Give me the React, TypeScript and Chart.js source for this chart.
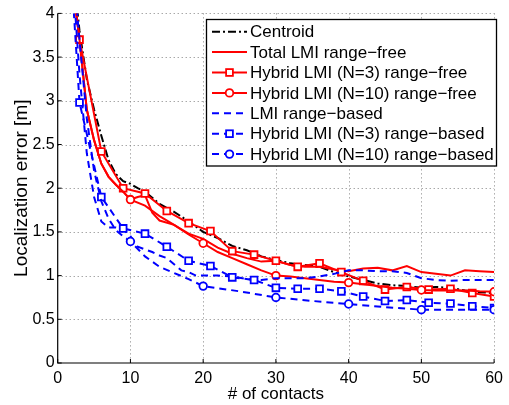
import React, { useEffect, useRef } from "react";
import { Chart, registerables } from "chart.js";

Chart.register(...registerables);

const FONT = "'Liberation Sans', Arial, Helvetica, sans-serif";

const xTicks = [0, 10, 20, 30, 40, 50, 60];
const yTicks = [0, 0.5, 1, 1.5, 2, 2.5, 3, 3.5, 4];
const xTitle = "# of contacts";
const yTitle = "Localization error [m]";

const legendLabels = [
  "Centroid",
  "Total LMI range\u2212free",
  "Hybrid LMI (N=3) range\u2212free",
  "Hybrid LMI (N=10) range\u2212free",
  "LMI range\u2212based",
  "Hybrid LMI (N=3) range\u2212based",
  "Hybrid LMI (N=10) range\u2212based",
];

const centroidX = [2, 3, 4, 5, 6, 7, 8, 9, 10, 11, 12, 14, 16, 18, 20, 22, 24, 26, 28, 30, 32, 34, 36, 38, 40, 42, 44, 46, 48, 50, 52, 54, 56, 58, 60];
const centroidY = [4.6, 3.8, 3.25, 2.9, 2.6, 2.32, 2.16, 2.08, 2.05, 2.0, 1.96, 1.82, 1.73, 1.62, 1.5, 1.43, 1.34, 1.29, 1.22, 1.18, 1.14, 1.12, 1.1, 1.04, 0.99, 0.95, 0.91, 0.89, 0.88, 0.86, 0.87, 0.86, 0.83, 0.81, 0.8];

const totalRfX = [2, 3, 4, 5, 6, 7, 8, 9, 10, 11, 12, 13, 14, 16, 18, 20, 22, 24, 26, 28, 30, 32, 34, 36, 38, 40, 42, 44, 46, 48, 50, 52, 54, 56, 58, 60];
const totalRfY = [4.37, 3.7, 2.9, 2.55, 2.28, 2.13, 2.04, 1.96, 1.87, 1.9, 1.92, 1.72, 1.63, 1.58, 1.48, 1.42, 1.32, 1.25, 1.2, 1.16, 1.17, 1.12, 1.1, 1.1, 1.07, 1.05, 1.08, 1.09, 1.06, 1.11, 1.04, 1.02, 1.0, 1.06, 1.05, 1.04];

const hyb3RfX = [2, 3, 6, 9, 12, 15, 18, 21, 24, 27, 30, 33, 36, 39, 42, 45, 48, 51, 54, 57, 60];
const hyb3RfY = [4.37, 3.7, 2.42, 2.0, 1.94, 1.74, 1.6, 1.51, 1.28, 1.24, 1.17, 1.1, 1.14, 1.04, 0.94, 0.84, 0.87, 0.84, 0.85, 0.8, 0.76];

const hyb10RfX = [2, 3, 4, 5, 6, 7, 8, 9, 10, 12, 14, 16, 18, 20, 22, 24, 26, 28, 30, 32, 34, 36, 38, 40, 42, 44, 46, 48, 50, 52, 54, 56, 58, 60];
const hyb10RfY = [4.37, 3.7, 2.9, 2.55, 2.28, 2.13, 2.04, 1.96, 1.87, 1.8, 1.68, 1.58, 1.47, 1.37, 1.27, 1.2, 1.13, 1.06, 1.0, 0.99, 0.97, 0.95, 0.93, 0.92, 0.9, 0.88, 0.86, 0.85, 0.835, 0.83, 0.83, 0.83, 0.82, 0.815];

const lmiRbX = [2, 3, 4, 5, 6, 7, 8, 9, 10, 11, 12, 13, 14, 15, 16, 17, 18, 19, 20, 22, 24, 26, 28, 30, 32, 34, 36, 38, 40, 42, 44, 46, 48, 50, 52, 54, 56, 58, 60];
const lmiRbY = [4.5, 3.3, 2.4, 1.9, 1.62, 1.55, 1.55, 1.53, 1.45, 1.33, 1.3, 1.27, 1.23, 1.2, 1.13, 1.06, 1.04, 1.0, 1.0, 1.0, 0.99, 0.96, 0.95, 0.97, 0.97, 0.97, 0.99, 1.02, 1.06, 1.06, 1.05, 1.05, 1.03, 0.97, 0.95, 0.94, 0.95, 0.95, 0.95];

const hyb3RbX = [2, 3, 6, 9, 12, 15, 18, 21, 24, 27, 30, 33, 36, 39, 42, 45, 48, 51, 54, 57, 60];
const hyb3RbY = [4.3, 2.98, 1.9, 1.54, 1.48, 1.33, 1.17, 1.11, 0.98, 0.95, 0.86, 0.85, 0.85, 0.82, 0.76, 0.71, 0.72, 0.69, 0.68, 0.65, 0.63];

const hyb10RbX = [2, 3, 4, 5, 6, 7, 8, 9, 10, 12, 14, 16, 18, 20, 25, 30, 35, 40, 45, 50, 55, 60];
const hyb10RbY = [4.6, 3.7, 2.8, 2.2, 1.85, 1.65, 1.52, 1.45, 1.39, 1.22, 1.1, 1.03, 0.96, 0.88, 0.82, 0.75, 0.71, 0.675, 0.64, 0.61, 0.61, 0.61];

const markers10 = [10, 20, 30, 40, 50, 60];

const RED = "#ff0000";
const BLUE = "#0000ff";
const BLACK = "#000000";

type Style = {
  color: string;
  dash: number[];
  marker: "none" | "rect" | "circle";
};

const styles: Style[] = [
  { color: BLACK, dash: [8, 3, 2, 3], marker: "none" },
  { color: RED, dash: [], marker: "none" },
  { color: RED, dash: [], marker: "rect" },
  { color: RED, dash: [], marker: "circle" },
  { color: BLUE, dash: [7, 5], marker: "none" },
  { color: BLUE, dash: [7, 5], marker: "rect" },
  { color: BLUE, dash: [7, 5], marker: "circle" },
];

const RECT_R = 4.8;
const CIRC_R = 3.8;

function pts(xs: number[], ys: number[]) {
  return xs.map((x, i) => ({ x, y: ys[i] }));
}

const frame = {
  id: "matlabFrame",
  beforeDatasetsDraw(chart: any) {
    const { ctx, chartArea, scales } = chart;
    const { left, right, top, bottom } = chartArea;
    ctx.save();
    ctx.strokeStyle = "#808080";
    ctx.lineWidth = 1;
    ctx.setLineDash([1, 3]);
    xTicks.forEach((v) => {
      if (v === 0) return;
      const px = Math.round(scales.x.getPixelForValue(v)) + 0.5;
      ctx.beginPath();
      ctx.moveTo(px, top);
      ctx.lineTo(px, bottom);
      ctx.stroke();
    });
    yTicks.forEach((v) => {
      if (v === 0) return;
      const py = Math.round(scales.y.getPixelForValue(v)) + 0.5;
      ctx.beginPath();
      ctx.moveTo(left, py);
      ctx.lineTo(right, py);
      ctx.stroke();
    });
    ctx.restore();
  },
  afterDatasetsDraw(chart: any) {
    const { ctx, chartArea, scales } = chart;
    const { left, bottom, top, right } = chartArea;
    ctx.save();
    ctx.strokeStyle = "#000";
    ctx.lineWidth = 1.2;
    ctx.setLineDash([]);
    ctx.beginPath();
    ctx.moveTo(left, top);
    ctx.lineTo(left, bottom);
    ctx.lineTo(right, bottom);
    ctx.stroke();
    ctx.lineWidth = 1;
    xTicks.forEach((v) => {
      const px = scales.x.getPixelForValue(v);
      ctx.beginPath();
      ctx.moveTo(px, bottom);
      ctx.lineTo(px, bottom - 4);
      ctx.stroke();
    });
    yTicks.forEach((v) => {
      const py = scales.y.getPixelForValue(v);
      ctx.beginPath();
      ctx.moveTo(left, py);
      ctx.lineTo(left + 4, py);
      ctx.stroke();
    });

    const bx = 206.5, by = 19.5, bw = 290, bh = 146.5;
    ctx.fillStyle = "#fff";
    ctx.fillRect(bx, by, bw, bh);
    ctx.strokeStyle = "#000";
    ctx.lineWidth = 1.3;
    ctx.strokeRect(bx, by, bw, bh);
    const rowH = 20.4;
    const y0 = 31.7;
    ctx.font = `17px ${FONT}`;
    ctx.textBaseline = "middle";
    ctx.textAlign = "left";
    styles.forEach((s, i) => {
      const y = y0 + i * rowH;
      ctx.strokeStyle = s.color;
      ctx.lineWidth = 2;
      ctx.setLineDash(s.dash);
      ctx.beginPath();
      ctx.moveTo(212, y);
      ctx.lineTo(247, y);
      ctx.stroke();
      ctx.setLineDash([]);
      ctx.lineWidth = 1.8;
      if (s.marker === "rect") {
        const h = RECT_R / Math.SQRT2;
        ctx.fillStyle = "#fff";
        ctx.fillRect(229.5 - h, y - h, 2 * h, 2 * h);
        ctx.strokeRect(229.5 - h, y - h, 2 * h, 2 * h);
      } else if (s.marker === "circle") {
        ctx.fillStyle = "#fff";
        ctx.beginPath();
        ctx.arc(229.5, y, CIRC_R, 0, Math.PI * 2);
        ctx.fill();
        ctx.stroke();
      }
      ctx.fillStyle = "#000";
      ctx.fillText(legendLabels[i], 250, y + 1);
    });
    ctx.restore();
  },
};

export default function App() {
  const ref = useRef<HTMLCanvasElement | null>(null);

  useEffect(() => {
    if (!ref.current) return;
    const series = [
      pts(centroidX, centroidY),
      pts(totalRfX, totalRfY),
      pts(hyb3RfX, hyb3RfY),
      pts(hyb10RfX, hyb10RfY),
      pts(lmiRbX, lmiRbY),
      pts(hyb3RbX, hyb3RbY),
      pts(hyb10RbX, hyb10RbY),
    ];
    const datasets = series.map((data, i) => {
      const s = styles[i];
      return {
        label: legendLabels[i],
        data,
        borderColor: s.color,
        backgroundColor: s.color,
        borderWidth: 2,
        borderDash: s.dash,
        fill: false,
        tension: 0,
        order: -i,
        pointStyle: s.marker === "none" ? "circle" : s.marker,
        pointBackgroundColor: "#fff",
        pointBorderColor: s.color,
        pointBorderWidth: 1.8,
        pointRadius: (c: any) => {
          if (s.marker === "none") return 0;
          const x = c.raw ? c.raw.x : 0;
          if (s.marker === "rect") return RECT_R;
          return markers10.includes(x) ? CIRC_R : 0;
        },
        pointHoverRadius: 0,
      };
    });

    const chart = new Chart(ref.current, {
      type: "line",
      data: { datasets: datasets as any },
      options: {
        animation: false,
        responsive: false,
        devicePixelRatio: 1,
        layout: { padding: { top: 13.4, right: 8.7, left: 0, bottom: 0 } },
        plugins: { legend: { display: false }, tooltip: { enabled: false } },
        scales: {
          x: {
            type: "linear",
            min: 0,
            max: 60,
            afterBuildTicks: (sc: any) => {
              sc.ticks = xTicks.map((v) => ({ value: v }));
            },
            afterFit: (sc: any) => {
              sc.height = 42;
            },
            grid: { display: false, drawTicks: false },
            border: { display: false },
            ticks: {
              color: "#000",
              font: { family: FONT, size: 16 },
              padding: 6,
              maxRotation: 0,
              callback: (v: any) => String(v),
            },
            title: {
              display: true,
              text: xTitle,
              color: "#000",
              font: { family: FONT, size: 17 },
              padding: { top: 0, bottom: 0 },
            },
          },
          y: {
            type: "linear",
            min: 0,
            max: 4,
            afterBuildTicks: (sc: any) => {
              sc.ticks = yTicks.map((v) => ({ value: v }));
            },
            afterFit: (sc: any) => {
              sc.width = 57.7;
            },
            grid: { display: false, drawTicks: false },
            border: { display: false },
            ticks: {
              color: "#000",
              font: { family: FONT, size: 16 },
              padding: 3,
              callback: (v: any) => String(v),
            },
            title: {
              display: true,
              text: yTitle,
              color: "#000",
              font: { family: FONT, size: 19 },
              padding: { top: 10, bottom: 0 },
            },
          },
        },
      },
      plugins: [frame],
    });
    return () => chart.destroy();
  }, []);

  return (
    <div style={{ position: "fixed", left: 0, top: 0, width: 509, height: 405, background: "#fff" }}>
      <canvas ref={ref} width={509} height={405} style={{ width: 509, height: 405, display: "block" }} />
    </div>
  );
}
